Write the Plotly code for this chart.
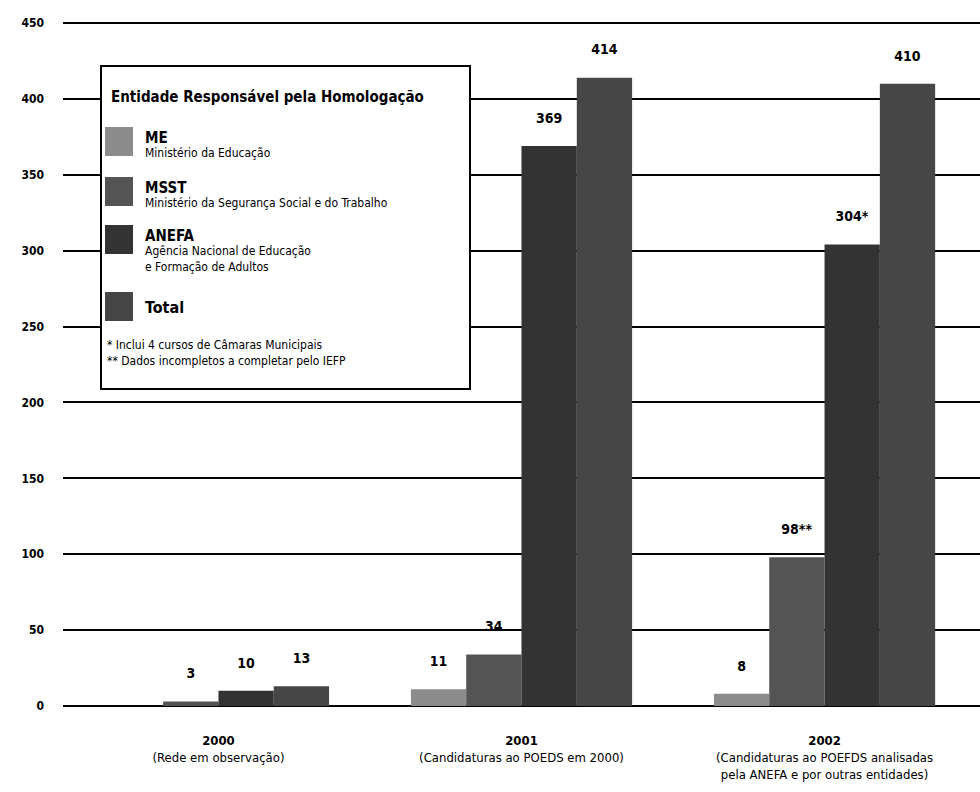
import plotly.graph_objects as go

# ---- data ----
categories = ["2000", "2001", "2002"]
category_labels = [
    "<b>2000</b><br>(Rede em observação)",
    "<b>2001</b><br>(Candidaturas ao POEDS em 2000)",
    "<b>2002</b><br>(Candidaturas ao POEFDS analisadas<br>pela ANEFA e por outras entidades)",
]
series_names = ["ME", "MSST", "ANEFA", "Total"]
series_desc = [
    "Ministério da Educação",
    "Ministério da Segurança Social e do Trabalho",
    "Agência Nacional de Educação<br>e Formação de Adultos",
    "",
]
me_values = [None, 11, 8]
msst_values = [3, 34, 98]
anefa_values = [10, 369, 304]
total_values = [13, 414, 410]
me_labels = ["", "11", "8"]
msst_labels = ["3", "34", "98**"]
anefa_labels = ["10", "369", "304*"]
total_labels = ["13", "414", "410"]
y_ticks = [0, 50, 100, 150, 200, 250, 300, 350, 400, 450]
legend_title = "Entidade Responsável pela Homologação"
footnotes = ["* Inclui 4 cursos de Câmaras Municipais",
             "** Dados incompletos a completar pelo IEFP"]

colors = ["#8c8c8c", "#545454", "#333333", "#464646"]
values = [me_values, msst_values, anefa_values, total_values]
labels = [me_labels, msst_labels, anefa_labels, total_labels]

FONT = "DejaVu Sans Condensed, Liberation Sans Narrow, DejaVu Sans, Arial, sans-serif"

W, H = 980, 792
ML, MR, MT, MB = 63, 0, 21, 86
PW = W - ML - MR
PH = H - MT - MB
Y_TOP = 450 + 2 * 450 / 683  # keeps the 450 gridline just inside the plot


def X(px):
    return (px - ML) / PW


def Y(py):
    return (H - MB - py) / PH


fig = go.Figure()
for name, vals, labs, col in zip(series_names, values, labels, colors):
    fig.add_trace(go.Bar(
        x=categories, y=vals, name=name,
        marker=dict(color=col, line=dict(width=0)),
        text=labs,
        texttemplate="%{text}<br><span style='font-size:10px'> </span>",
        textposition="outside",
        constraintext="none",
        cliponaxis=False,
        textfont=dict(family=FONT, size=14, color="black", weight="bold"),
        showlegend=False,
    ))

shapes = []
annotations = []

# legend box
shapes.append(dict(type="rect", xref="paper", yref="paper",
                   x0=X(101), x1=X(470), y0=Y(389), y1=Y(66),
                   line=dict(color="black", width=2), fillcolor="white", layer="above"))
annotations.append(dict(xref="paper", yref="paper", x=X(109), y=Y(97),
                        text="<b>" + legend_title + "</b>", showarrow=False,
                        xanchor="left", yanchor="middle",
                        font=dict(family=FONT, size=15, color="black")))

swatch_tops = [127, 177, 225, 292]
for i, (name, desc, col) in enumerate(zip(series_names, series_desc, colors)):
    top = swatch_tops[i]
    shapes.append(dict(type="rect", xref="paper", yref="paper",
                       x0=X(105), x1=X(133), y0=Y(top + 29), y1=Y(top),
                       line=dict(width=0), fillcolor=col, layer="above"))
    if desc:
        annotations.append(dict(xref="paper", yref="paper", x=X(143), y=Y(top),
                                text="<b>" + name + "</b>", showarrow=False,
                                xanchor="left", yanchor="top",
                                font=dict(family=FONT, size=15, color="black")))
        annotations.append(dict(xref="paper", yref="paper", x=X(143), y=Y(top + 17),
                                text=desc, showarrow=False, align="left",
                                xanchor="left", yanchor="top",
                                font=dict(family=FONT, size=12, color="black")))
    else:
        annotations.append(dict(xref="paper", yref="paper", x=X(143), y=Y(top + 15),
                                text="<b>" + name + "</b>", showarrow=False,
                                xanchor="left", yanchor="middle",
                                font=dict(family=FONT, size=16, color="black")))

annotations.append(dict(xref="paper", yref="paper", x=X(105), y=Y(336),
                        text="<br>".join(footnotes), showarrow=False, align="left",
                        xanchor="left", yanchor="top",
                        font=dict(family=FONT, size=12, color="black")))

fig.update_layout(
    width=W, height=H,
    margin=dict(l=ML, r=MR, t=MT, b=MB),
    paper_bgcolor="white", plot_bgcolor="white",
    barmode="group", bargap=0.27, bargroupgap=0,
    font=dict(family=FONT, color="black"),
    shapes=shapes, annotations=annotations,
    xaxis=dict(
        type="category", range=[-0.513, 2.513],
        tickmode="array", tickvals=categories, ticktext=category_labels,
        tickfont=dict(family=FONT, size=13, color="black"),
        ticks="", showgrid=False, showline=False, zeroline=False,
        ticklabelstandoff=25,
    ),
    yaxis=dict(
        range=[0, Y_TOP], tickmode="array", tickvals=y_ticks,
        tickfont=dict(family=FONT, size=12, color="black", weight="bold"),
        showgrid=True, gridcolor="black", gridwidth=2,
        zeroline=True, zerolinecolor="black", zerolinewidth=2,
        showline=False, ticks="", ticklabelstandoff=18,
    ),
)

fig.write_html("out.html")
